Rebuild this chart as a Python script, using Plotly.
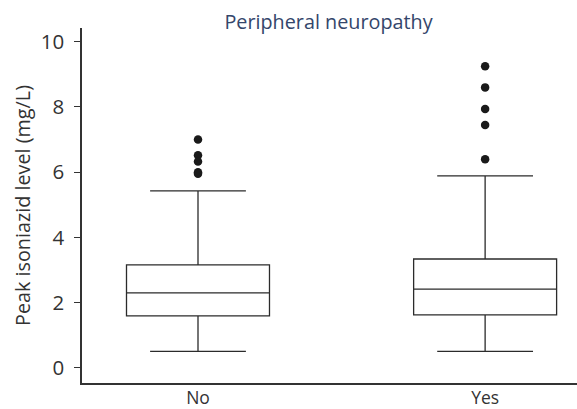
import plotly.graph_objects as go

categories = ["No", "Yes"]
lower_whisker = [0.51, 0.51]
q1 = [1.60, 1.63]
median = [2.30, 2.42]
q3 = [3.16, 3.34]
upper_whisker = [5.43, 5.89]

outliers_no = [7.0, 6.52, 6.33, 6.0, 5.95]
outliers_yes = [9.25, 8.6, 7.94, 7.45, 6.4]

y_ticks = [0, 2, 4, 6, 8, 10]

title_text = "Peripheral neuropathy"
y_title = "Peak isoniazid level (mg/L)"

line_col = "#2b2b2b"
font_family = "Open Sans, Lato, sans-serif"

fig = go.Figure()
fig.add_trace(go.Box(
    x=categories,
    q1=q1, median=median, q3=q3,
    lowerfence=lower_whisker, upperfence=upper_whisker,
    width=0.498,
    whiskerwidth=0.67,
    fillcolor="white",
    line=dict(color=line_col, width=1.3),
    boxpoints=False,
    showlegend=False,
    hoverinfo="skip",
))
fig.add_trace(go.Scatter(
    x=["No"] * len(outliers_no) + ["Yes"] * len(outliers_yes),
    y=outliers_no + outliers_yes,
    mode="markers",
    marker=dict(color="#1a1a1a", size=8.5),
    showlegend=False,
))

fig.update_layout(
    width=577, height=409,
    margin=dict(l=82, r=0, t=28, b=26),
    paper_bgcolor="white", plot_bgcolor="white",
    font=dict(family=font_family, color="#333333"),
    title=dict(text=title_text, x=0.498, xanchor="center", xref="paper",
               y=1 - 22 / 409, yref="container", yanchor="middle",
               font=dict(size=19.8, color="#34466b", family=font_family)),
)
fig.update_xaxes(
    type="category",
    range=[-0.404, 1.32],
    showline=True, linecolor="#333333", linewidth=1.5,
    ticks="", showgrid=False, zeroline=False,
    tickfont=dict(size=17.5, color="#333333"),
    ticklabelstandoff=-2,
    automargin=False,
)
fig.update_yaxes(
    range=[-0.46, 10.42],
    tickvals=y_ticks,
    showline=True, linecolor="#333333", linewidth=1.5,
    ticks="outside", ticklen=6, tickwidth=1.3, tickcolor="#333333",
    showgrid=False, zeroline=False,
    tickfont=dict(size=20.5, color="#333333"),
    ticklabelstandoff=6,
    title=dict(text=y_title, font=dict(size=19.8, color="#333333"), standoff=5),
    automargin=False,
)

fig.write_html("out.html", post_script="document.body.style.margin='0';",
               config={"displayModeBar": False})
